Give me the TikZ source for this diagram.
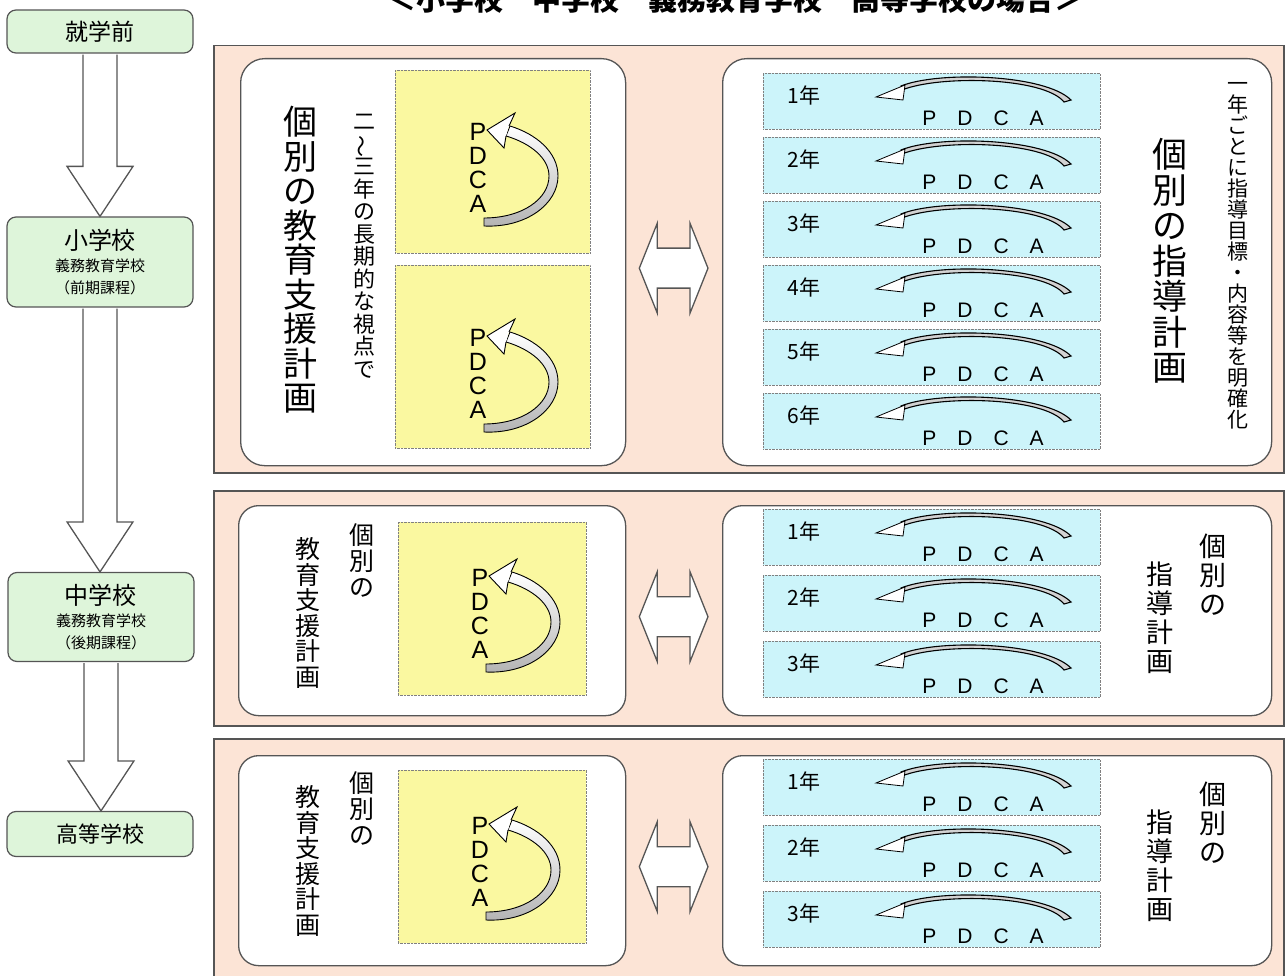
\documentclass[tikz,border=0pt]{standalone}
\usepackage{fontspec}
\usepackage{graphicx}
\usetikzlibrary{positioning,calc}
\newfontfamily\jp{Noto Sans CJK JP}
\newfontfamily\lat{Liberation Sans}
\definecolor{stagegreen}{RGB}{222,245,218}
\definecolor{panelpink}{RGB}{252,228,214}
\definecolor{noteyellow}{RGB}{250,248,160}
\definecolor{yearcyan}{RGB}{204,244,250}
\definecolor{edgegray}{RGB}{85,85,85}

\tikzset{
  stage/.style={draw=edgegray, line width=1.2pt, fill=stagegreen, rounded corners=9pt, minimum width=186pt, align=center, inner sep=0pt},
  panel/.style={draw=edgegray, line width=1.5pt, fill=panelpink, anchor=north west, inner sep=0pt},
  whitebox/.style={draw=edgegray, line width=1.3pt, fill=white, rounded corners=24pt, anchor=north west, inner sep=0pt},
  notebox/.style={draw=gray, densely dotted, fill=noteyellow, anchor=north west, inner sep=0pt},
  yearbox/.style={draw=gray, densely dotted, fill=yearcyan, anchor=north west, minimum width=337pt, minimum height=56pt, inner sep=0pt},
  vtext/.style={align=center, inner sep=0pt},
  bigarrow/.style={draw=edgegray, line width=1.3pt, fill=white},
  pdcaloop/.pic={
    \node[font=\lat\fontsize{25}{24}\selectfont, align=center, inner sep=0pt] at (0,0) {P\\D\\C\\A};
    \draw[line width=0.9pt, top color=white, bottom color=gray!60] (6,58) .. controls (48,60) and (80,36) .. (80,8) .. controls (80,-16) and (58,-34) .. (32,-42) -- (28,-32) .. controls (52,-25) and (71,-10) .. (71,8) .. controls (71,31) and (44,50) .. (6,50) -- cycle;
    \draw[line width=0.9pt, fill=white] (31,-42) -- (37,-55) -- (9,-38) -- (26,-20) -- (28,-32);
  },
  yearloop/.pic={
    \node[font=\jp\fontsize{21}{21}\selectfont, anchor=west] at (21,22) {#1};
    \draw[line width=1.1pt, fill=gray!35] (308,27) .. controls (282,1) and (175,-2) .. (138,13) -- (139,17) .. controls (176,2) and (281,4) .. (301,29) -- cycle;
    \draw[line width=0.8pt, fill=white] (142,12) -- (113,24) -- (140,27) -- cycle;
    \node[font=\lat\fontsize{21}{21}\selectfont] at (220,45) {P\quad D\quad C\quad A};
  }
}

\begin{document}
\begin{tikzpicture}[x=1pt,y=-1pt]
\useasboundingbox (0,0) rectangle (1285,976);

% title, cut by the page edge
\node[font=\jp\bfseries\fontsize{29}{29}\selectfont] (title) at (735,-1) {＜小学校　中学校　義務教育学校　高等学校の場合＞};

% stages
\node[stage, minimum height=43pt, font=\jp\fontsize{23}{23}\selectfont] (pre) at (100,31.5) {就学前};
\node[stage, minimum height=90pt, font=\jp\fontsize{15}{22}\selectfont] (elem) at (100,262) {{\fontsize{24}{24}\selectfont 小学校}\\義務教育学校\\（前期課程）};
\node[stage, minimum height=89pt, font=\jp\fontsize{15}{22}\selectfont] (mid) at (101,617) {{\fontsize{24}{24}\selectfont 中学校}\\義務教育学校\\（後期課程）};
\node[stage, minimum height=45pt, font=\jp\fontsize{22}{22}\selectfont] (high) at (100,834) {高等学校};

\foreach \a/\b in {pre/elem, mid/high, elem/mid}
  \draw[bigarrow] let \p1=(\a.south), \p2=(\b.north) in
    (\x1-17pt,\y1-1pt) -- (\x1-17pt,\y2+50pt) -- (\x1-33pt,\y2+50pt) -- (\x1,\y2) -- (\x1+33pt,\y2+50pt) -- (\x1+17pt,\y2+50pt) -- (\x1+17pt,\y1-1pt);

% panels
\node[panel, minimum width=1070pt, minimum height=427pt] (panelA) at (213,45) {};
\node[panel, minimum width=1070pt, minimum height=235pt] (panelB) at (213,490) {};
\node[panel, minimum width=1070pt, minimum height=250pt] (panelC) at (213,738) {};

\node[whitebox, minimum width=385pt, minimum height=407pt] (lboxA) at (240,58) {};
\node[whitebox, minimum width=549pt, minimum height=407pt] (rboxA) at (722,58) {};
\node[whitebox, rounded corners=20pt, minimum width=387pt, minimum height=210pt] (lboxB) at (238,505) {};
\node[whitebox, rounded corners=20pt, minimum width=549pt, minimum height=210pt] (rboxB) at (722,505) {};
\node[whitebox, rounded corners=20pt, minimum width=387pt, minimum height=210pt] (lboxC) at (238,755) {};
\node[whitebox, rounded corners=20pt, minimum width=549pt, minimum height=210pt] (rboxC) at (722,755) {};

% double arrows
\foreach \l/\r in {lboxA/rboxA, lboxB/rboxB, lboxC/rboxC}
  \draw[bigarrow] let \p1=(\l.east), \p2=(\r.west) in
    (\x1+13pt,\y1-6pt) -- (\x1+31pt,\y1+39pt) -- (\x1+31pt,\y1+14pt) -- (\x2-32pt,\y1+14pt) -- (\x2-32pt,\y1+39pt)
    -- (\x2-14pt,\y1-6pt) -- (\x2-32pt,\y1-51pt) -- (\x2-32pt,\y1-26pt) -- (\x1+31pt,\y1-26pt) -- (\x1+31pt,\y1-51pt) -- cycle;

% support plans
\node[notebox, minimum width=195pt, minimum height=183pt] (noteA1) at (395,70) {};
\node[notebox, minimum width=195pt, minimum height=183pt] (noteA2) at (395,265) {};
\node[notebox, minimum width=188pt, minimum height=173pt] (noteB) at (398,522) {};
\node[notebox, minimum width=188pt, minimum height=173pt] (noteC) at (398,770) {};
\pic at (478,168) {pdcaloop};
\pic at (478,374) {pdcaloop};
\pic at (480,614) {pdcaloop};
\pic at (480,862) {pdcaloop};

\node[vtext, font=\jp\fontsize{34}{34.5}\selectfont] (planA) at (300,260) {個\\別\\の\\教\\育\\支\\援\\計\\画};
\node[vtext, font=\jp\fontsize{22}{22.5}\selectfont] (viewA) at (364,246) {二\\\rotatebox[origin=c]{90}{〜}\\三\\年\\の\\長\\期\\的\\な\\視\\点\\で};
\node[vtext, font=\jp\fontsize{25}{26}\selectfont] (ownB) at (362,560) {個\\別\\の};
\node[vtext, font=\jp\fontsize{25}{25.5}\selectfont] (planB) at (308,613) {教\\育\\支\\援\\計\\画};
\node[vtext, font=\jp\fontsize{25}{26}\selectfont] (ownC) at (362,808) {個\\別\\の};
\node[vtext, font=\jp\fontsize{25}{25.5}\selectfont] (planC) at (308,861) {教\\育\\支\\援\\計\\画};

% yearly plans
\foreach \i in {1,...,6}{
  \node[yearbox] (yearA\i) at (763,{73+64*(\i-1)}) {};
  \pic at (yearA\i.north west) {yearloop=\i 年};
}
\foreach \i in {1,2,3}{
  \node[yearbox] (yearB\i) at (763,{509+66*(\i-1)}) {};
  \pic at (yearB\i.north west) {yearloop=\i 年};
  \node[yearbox] (yearC\i) at (763,{759+66*(\i-1)}) {};
  \pic at (yearC\i.north west) {yearloop=\i 年};
}

\node[vtext, font=\jp\fontsize{35}{35.5}\selectfont] (guideA) at (1170,261) {個\\別\\の\\指\\導\\計\\画};
\node[vtext, font=\jp\fontsize{21}{21}\selectfont] (goalA) at (1238,256) {一\\年\\ご\\と\\に\\指\\導\\目\\標\\・\\内\\容\\等\\を\\明\\確\\化};
\node[vtext, font=\jp\fontsize{27}{29}\selectfont] (ownRB) at (1213,575) {個\\別\\の};
\node[vtext, font=\jp\fontsize{27}{29}\selectfont] (guideB) at (1160,618) {指\\導\\計\\画};
\node[vtext, font=\jp\fontsize{27}{29}\selectfont] (ownRC) at (1213,823) {個\\別\\の};
\node[vtext, font=\jp\fontsize{27}{29}\selectfont] (guideC) at (1160,866) {指\\導\\計\\画};
\end{tikzpicture}
\end{document}
